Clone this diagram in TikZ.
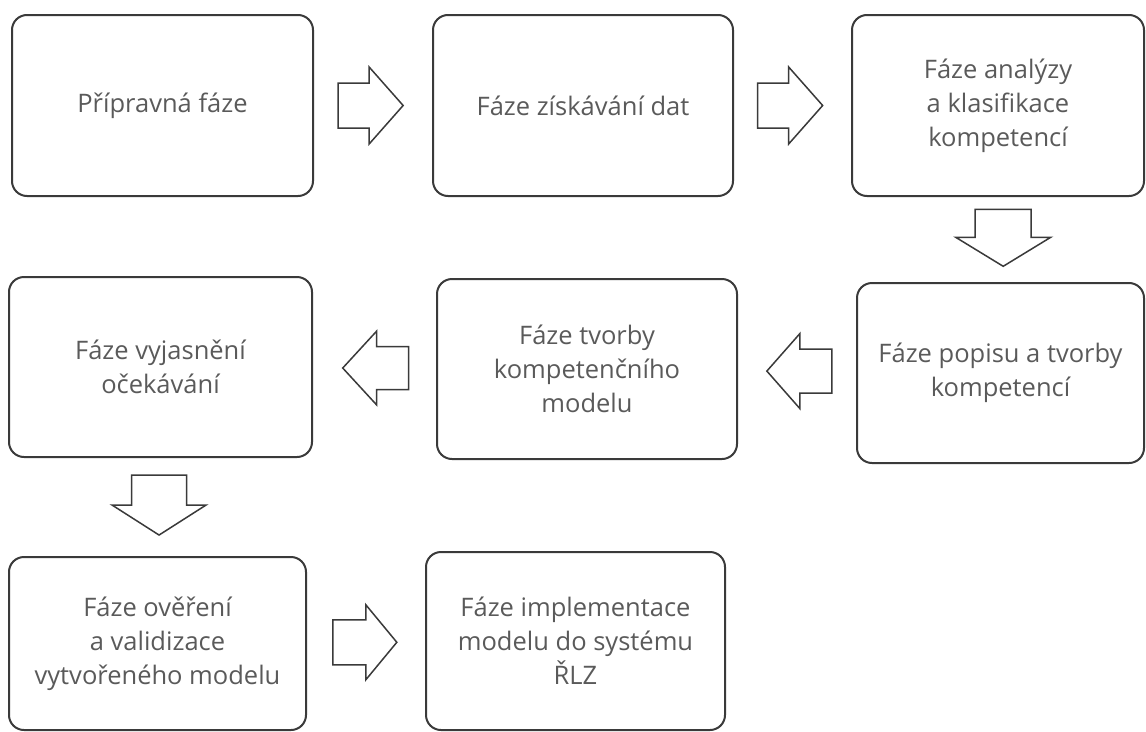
\documentclass[tikz,border=0pt]{standalone}
\usepackage{fontspec}
\setmainfont{Open Sans}
\usetikzlibrary{calc}

\definecolor{edgegray}{HTML}{3A3A3A}
\definecolor{textgray}{HTML}{5A5A5A}

\tikzset{
  phase/.style={draw=edgegray, line width=2pt, rounded corners=15pt,
    rectangle, inner sep=0pt, align=center, text=textgray,
    font=\fontsize{25.5}{34}\selectfont},
  % hollow block arrow: length, shaft width, head width, head length
  pics/blockarrow/.style n args={4}{code={
    \draw[draw=edgegray, line width=1.5pt, fill=white, line join=miter]
      ({-#1/2},{#2/2}) -- ({#1/2-#4},{#2/2}) -- ({#1/2-#4},{#3/2})
      -- ({#1/2},0) -- ({#1/2-#4},{-#3/2}) -- ({#1/2-#4},{-#2/2})
      -- ({-#1/2},{-#2/2}) -- cycle;
  }},
}

\begin{document}
\begin{tikzpicture}[x=1pt, y=-1pt]
  \useasboundingbox (0,0) rectangle (1146,731);

  % first row
  \node[phase, minimum width=301pt, minimum height=181pt] (b1) at (162.5,105.5)
    {Přípravná fáze};
  \node[phase, minimum width=300pt, minimum height=181pt] (b2) at (583,105.5)
    {Fáze získávání dat};
  \node[phase, minimum width=292pt, minimum height=181pt] (b3) at (998,105.5)
    {Fáze analýzy\\a klasifikace\\kompetencí};

  % second row
  \node[phase, minimum width=303pt, minimum height=180pt] (b4) at (160.5,367)
    {Fáze vyjasnění\\očekávání};
  \node[phase, minimum width=300pt, minimum height=180pt] (b5) at (587,369)
    {Fáze tvorby\\kompetenčního\\modelu};
  \node[phase, minimum width=287pt, minimum height=180pt] (b6) at (1000.5,373)
    {Fáze popisu a tvorby\\kompetencí};

  % third row
  \node[phase, minimum width=297pt, minimum height=173pt] (b7) at (157.5,643.5)
    {Fáze ověření\\a validizace\\vytvořeného modelu};
  \node[phase, minimum width=299pt, minimum height=178pt] (b8) at (575.5,641)
    {Fáze implementace\\modelu do systému\\ŘLZ};

  % flow arrows between the phases
  \pic at ($(b1.east)!0.48!(b2.west)$) {blockarrow={65}{45}{77}{34}};
  \pic at ($(b2.east)!0.48!(b3.west)$) {blockarrow={65}{45}{77}{34}};
  \pic[rotate=-90] at ($(b3.south)!0.48!(b6.north)+(4,0)$) {blockarrow={57}{56}{95}{29}};
  \pic[rotate=180] at ($(b6.west)!0.48!(b5.east)$) {blockarrow={65}{44}{75}{33}};
  \pic[rotate=180] at ($(b5.west)!0.49!(b4.east)$) {blockarrow={66}{43}{74}{34}};
  \pic[rotate=-90] at ($(b4.south)!0.48!(b7.north)$) {blockarrow={60}{55}{94}{30}};
  \pic at ($(b7.east)!0.49!(b8.west)$) {blockarrow={64}{45}{75}{31}};
\end{tikzpicture}
\end{document}
